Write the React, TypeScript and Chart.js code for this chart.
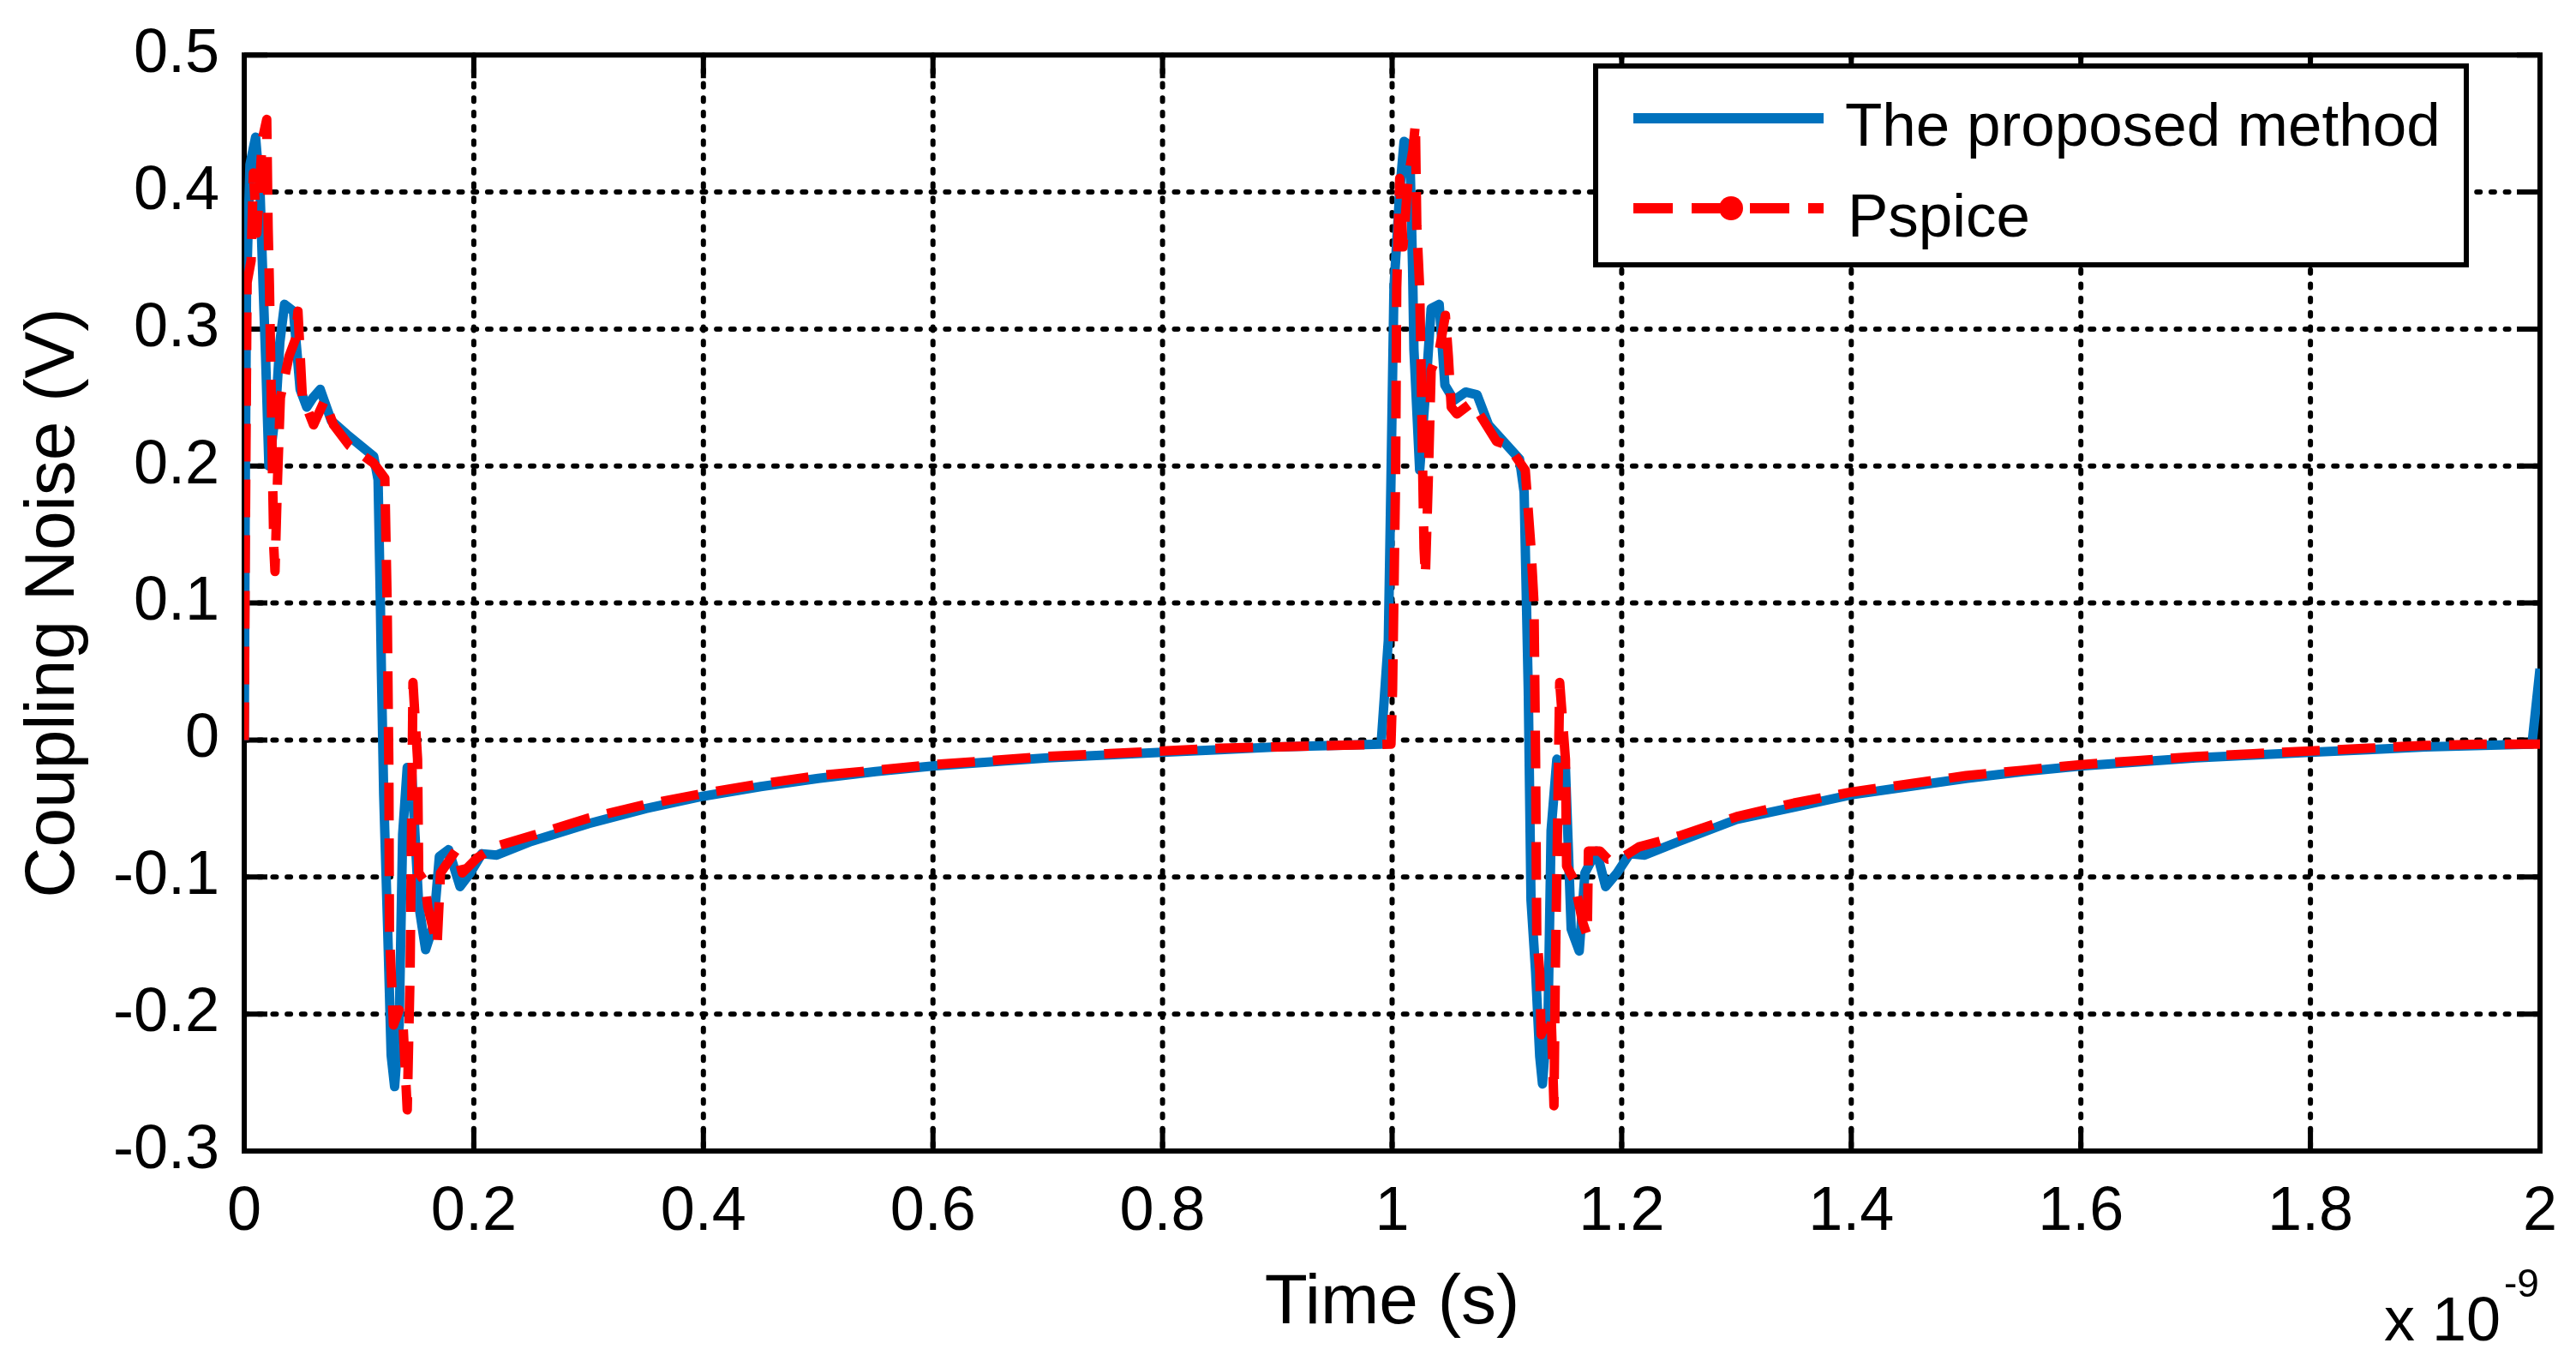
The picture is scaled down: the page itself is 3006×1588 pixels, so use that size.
import { useEffect, useRef } from 'react'
import { Chart, registerables } from 'chart.js'

Chart.register(...registerables)
Chart.defaults.font.family = '"Liberation Sans", Arial, sans-serif'
Chart.defaults.color = '#000000'

// time in units of 1e-9 s
const blueTime = [
  0, 0.001, 0.002, 0.005, 0.0099, 0.0138, 0.0165, 0.0186, 0.0215, 0.0274,
  0.031, 0.0351, 0.0429, 0.0487, 0.0545, 0.06, 0.0662, 0.0759, 0.0895, 0.1128,
  0.1166, 0.1186, 0.1195, 0.1215, 0.125, 0.128, 0.131, 0.135, 0.138, 0.142,
  0.146, 0.152, 0.158, 0.165, 0.17, 0.178, 0.188, 0.197, 0.207, 0.22,
  0.235, 0.25, 0.3, 0.35, 0.4, 0.45, 0.5, 0.55, 0.6, 0.65,
  0.7, 0.75, 0.8, 0.85, 0.9, 0.95, 0.9904, 0.9967, 0.999, 1.0016,
  1.0066, 1.0104, 1.0153, 1.0178, 1.019, 1.024, 1.03, 1.034, 1.041, 1.046,
  1.054, 1.064, 1.074, 1.084, 1.111, 1.115, 1.1186, 1.121, 1.125, 1.1286,
  1.131, 1.136, 1.1385, 1.1435, 1.151, 1.156, 1.163, 1.168, 1.178, 1.186,
  1.196, 1.207, 1.22, 1.25, 1.3, 1.35, 1.4, 1.45, 1.5, 1.55,
  1.6, 1.65, 1.7, 1.75, 1.8, 1.85, 1.9, 1.95, 1.993, 2.0,
]
const blueNoise = [
  0, 0.2, 0.33, 0.42, 0.44, 0.4, 0.33, 0.28, 0.2, 0.24,
  0.29, 0.318, 0.313, 0.256, 0.243, 0.25, 0.256, 0.233, 0.223, 0.207,
  0.19, 0.1, 0.05, -0.04, -0.139, -0.23, -0.253, -0.208, -0.069, -0.02,
  -0.025, -0.12, -0.153, -0.135, -0.085, -0.08, -0.107, -0.097, -0.083, -0.084,
  -0.079, -0.074, -0.061, -0.05, -0.041, -0.034, -0.028, -0.023, -0.019, -0.016,
  -0.013, -0.011, -0.009, -0.007, -0.005, -0.004, -0.003, 0.073, 0.19, 0.33,
  0.4, 0.437, 0.434, 0.345, 0.285, 0.197, 0.264, 0.315, 0.318, 0.259,
  0.248, 0.254, 0.252, 0.23, 0.205, 0.181, 0.037, -0.117, -0.169, -0.231,
  -0.251, -0.195, -0.066, -0.014, -0.02, -0.138, -0.154, -0.097, -0.081, -0.107,
  -0.097, -0.083, -0.084, -0.074, -0.058, -0.049, -0.04, -0.034, -0.028, -0.023,
  -0.019, -0.016, -0.013, -0.011, -0.009, -0.007, -0.005, -0.004, -0.003, 0.052,
]

const redTime = [
  0, 0.001, 0.0025, 0.006, 0.008, 0.011, 0.0157, 0.0196, 0.0208, 0.022,
  0.0232, 0.0245, 0.0258, 0.0268, 0.029, 0.0315, 0.039, 0.0448, 0.0468, 0.0506,
  0.0604, 0.07, 0.0778, 0.0914, 0.1128, 0.1225, 0.1245, 0.126, 0.1265, 0.13,
  0.135, 0.1385, 0.142, 0.1445, 0.147, 0.151, 0.152, 0.157, 0.16, 0.168,
  0.171, 0.185, 0.19, 0.203, 0.218, 0.25, 0.3, 0.35, 0.4, 0.45,
  0.5, 0.55, 0.6, 0.65, 0.7, 0.75, 0.8, 0.85, 0.9, 0.95,
  0.999, 1.0004, 1.003, 1.004, 1.0066, 1.0095, 1.014, 1.018, 1.0203, 1.0215,
  1.024, 1.0253, 1.0265, 1.0278, 1.029, 1.0315, 1.034, 1.041, 1.0464, 1.049,
  1.0515, 1.0564, 1.069, 1.076, 1.091, 1.101, 1.116, 1.121, 1.1236, 1.125,
  1.126, 1.1286, 1.1298, 1.1323, 1.1385, 1.141, 1.1422, 1.146, 1.151, 1.152,
  1.1584, 1.166, 1.17, 1.171, 1.181, 1.188, 1.2, 1.215, 1.25, 1.3,
  1.35, 1.4, 1.45, 1.5, 1.55, 1.6, 1.65, 1.7, 1.75, 1.8,
  1.85, 1.9, 1.95, 2.0,
]
const redNoise = [
  0, 0.15, 0.334, 0.35, 0.414, 0.37, 0.438, 0.453, 0.375, 0.33,
  0.27, 0.2, 0.14, 0.123, 0.19, 0.25, 0.28, 0.293, 0.313, 0.251,
  0.23, 0.248, 0.23, 0.215, 0.202, 0.191, 0.1, -0.02, -0.14, -0.208,
  -0.197, -0.21, -0.27, -0.17, 0.042, -0.014, -0.097, -0.103, -0.122, -0.15,
  -0.097, -0.08, -0.097, -0.086, -0.078, -0.07, -0.057, -0.047, -0.039, -0.032,
  -0.026, -0.022, -0.018, -0.015, -0.012, -0.01, -0.008, -0.006, -0.005, -0.004,
  -0.003, 0.037, 0.19, 0.33, 0.41, 0.36, 0.41, 0.43, 0.45, 0.375,
  0.33, 0.27, 0.202, 0.14, 0.12, 0.19, 0.27, 0.284, 0.31, 0.28,
  0.243, 0.238, 0.246, 0.238, 0.218, 0.215, 0.197, 0.14, 0.1, -0.014,
  -0.143, -0.169, -0.215, -0.21, -0.2, -0.267, -0.169, 0.042, -0.014, -0.092,
  -0.102, -0.133, -0.143, -0.081, -0.081, -0.087, -0.086, -0.078, -0.07, -0.056,
  -0.046, -0.038, -0.032, -0.026, -0.022, -0.018, -0.015, -0.012, -0.01, -0.008,
  -0.006, -0.004, -0.003, -0.003,
]

const seriesNames = ['The proposed method', 'Pspice']
const xTicks = [0, 0.2, 0.4, 0.6, 0.8, 1, 1.2, 1.4, 1.6, 1.8, 2]
const yTicks = [-0.3, -0.2, -0.1, 0, 0.1, 0.2, 0.3, 0.4, 0.5]

const BLUE = '#0072BD'
const RED = '#FF0000'
const FONT = '"Liberation Sans", Arial, sans-serif'

const toPoints = (t: number[], v: number[]) => t.map((x, i) => ({ x, y: v[i] }))
const fmt = (v: number) => String(Math.round(v * 10) / 10)

// MATLAB style box, dotted grid and inward ticks, plus legend and exponent
const axesBox = {
  id: 'axesBox',
  beforeDatasetsDraw(chart: any) {
    const { ctx, chartArea: a, scales } = chart
    const xs = scales.x
    const ys = scales.y
    ctx.save()
    ctx.strokeStyle = '#000'
    ctx.lineWidth = 6
    ctx.lineCap = 'round'
    ctx.setLineDash([4, 12.7])
    xTicks.forEach((t) => {
      const px = xs.getPixelForValue(t)
      if (px <= a.left + 3 || px >= a.right - 3) return
      ctx.beginPath()
      ctx.moveTo(px, a.top)
      ctx.lineTo(px, a.bottom)
      ctx.stroke()
    })
    yTicks.forEach((t) => {
      const py = ys.getPixelForValue(t)
      if (py <= a.top + 3 || py >= a.bottom - 3) return
      ctx.beginPath()
      ctx.moveTo(a.left, py)
      ctx.lineTo(a.right, py)
      ctx.stroke()
    })
    ctx.setLineDash([])
    ctx.lineCap = 'butt'
    const tl = 27
    xTicks.forEach((t) => {
      const px = xs.getPixelForValue(t)
      ctx.beginPath()
      ctx.moveTo(px, a.bottom)
      ctx.lineTo(px, a.bottom - tl)
      ctx.moveTo(px, a.top)
      ctx.lineTo(px, a.top + tl)
      ctx.stroke()
    })
    yTicks.forEach((t) => {
      const py = ys.getPixelForValue(t)
      ctx.beginPath()
      ctx.moveTo(a.left, py)
      ctx.lineTo(a.left + tl, py)
      ctx.moveTo(a.right, py)
      ctx.lineTo(a.right - tl, py)
      ctx.stroke()
    })
    ctx.lineJoin = 'miter'
    ctx.strokeRect(a.left, a.top, a.right - a.left, a.bottom - a.top)
    ctx.restore()
  },
  afterDatasetsDraw(chart: any) {
    const { ctx } = chart
    ctx.save()
    // legend
    const bx = 1862, by = 77, bw = 1016, bh = 232
    ctx.fillStyle = '#fff'
    ctx.fillRect(bx, by, bw, bh)
    ctx.strokeStyle = '#000'
    ctx.lineWidth = 6
    ctx.strokeRect(bx, by, bw, bh)

    ctx.lineWidth = 12
    ctx.strokeStyle = BLUE
    ctx.beginPath()
    ctx.moveTo(1906, 138)
    ctx.lineTo(2128, 138)
    ctx.stroke()

    ctx.strokeStyle = RED
    ctx.setLineDash([46, 22])
    ctx.beginPath()
    ctx.moveTo(1906, 243)
    ctx.lineTo(2128, 243)
    ctx.stroke()
    ctx.setLineDash([])
    ctx.fillStyle = RED
    ctx.beginPath()
    ctx.arc(2020, 243, 14, 0, Math.PI * 2)
    ctx.fill()

    ctx.fillStyle = '#000'
    ctx.font = `71px ${FONT}`
    ctx.textAlign = 'left'
    ctx.textBaseline = 'alphabetic'
    ctx.fillText(seriesNames[0], 2153, 170)
    ctx.fillText(seriesNames[1], 2156, 276)

    // exponent label
    ctx.font = `72px ${FONT}`
    ctx.fillText('x 10', 2782, 1564)
    ctx.font = `46px ${FONT}`
    ctx.fillText('-9', 2922, 1513)
    ctx.restore()
  },
}

export default function App() {
  const ref = useRef<HTMLCanvasElement>(null)
  const chartRef = useRef<Chart | null>(null)

  useEffect(() => {
    if (!ref.current) return
    if (chartRef.current) chartRef.current.destroy()

    chartRef.current = new Chart(ref.current, {
      type: 'line',
      data: {
        datasets: [
          {
            label: seriesNames[0],
            data: toPoints(blueTime, blueNoise),
            borderColor: BLUE,
            borderWidth: 11,
            pointRadius: 0,
            tension: 0,
            borderJoinStyle: 'round',
            order: 1,
          },
          {
            label: seriesNames[1],
            data: toPoints(redTime, redNoise),
            borderColor: RED,
            borderWidth: 11,
            borderDash: [44, 21],
            pointRadius: 0,
            tension: 0,
            borderJoinStyle: 'round',
            order: 0,
          },
        ],
      },
      options: {
        animation: false,
        responsive: true,
        maintainAspectRatio: false,
        layout: { padding: { top: 50, right: 42, left: 0, bottom: 0 } },
        plugins: {
          legend: { display: false },
          tooltip: { enabled: false },
        },
        scales: {
          x: {
            type: 'linear',
            min: 0,
            max: 2,
            afterFit: (s: any) => { s.height = 245 },
            afterBuildTicks: (s: any) => { s.ticks = xTicks.map((value) => ({ value })) },
            ticks: {
              callback: (v: any) => fmt(Number(v)),
              font: { size: 72 },
              padding: 21,
              maxRotation: 0,
              autoSkip: false,
            },
            grid: { display: false },
            border: { display: false },
            title: {
              display: true,
              text: 'Time (s)',
              font: { size: 82 },
              padding: { top: 0, bottom: 17 },
            },
          },
          y: {
            type: 'linear',
            min: -0.3,
            max: 0.5,
            afterFit: (s: any) => { s.width = 285 },
            afterBuildTicks: (s: any) => { s.ticks = yTicks.map((value) => ({ value })) },
            ticks: {
              callback: (v: any) => fmt(Number(v)),
              font: { size: 72 },
              padding: 21,
              autoSkip: false,
            },
            grid: { display: false },
            border: { display: false },
            title: {
              display: true,
              text: 'Coupling Noise (V)',
              font: { size: 82 },
              padding: { top: 14, bottom: 0 },
            },
          },
        },
      },
      plugins: [axesBox],
    })

    return () => { chartRef.current?.destroy() }
  }, [])

  return (
    <div style={{ position: 'fixed', left: 0, top: 0, width: 3006, height: 1588, background: '#fff' }}>
      <canvas ref={ref} />
    </div>
  )
}
